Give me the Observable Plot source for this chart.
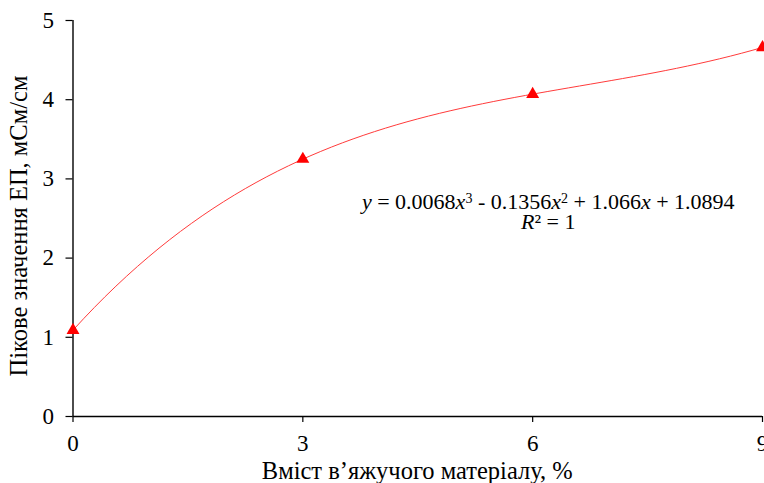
<!DOCTYPE html>
<html>
<head>
<meta charset="utf-8">
<script src="https://cdn.jsdelivr.net/npm/d3@7"></script>
<script src="https://cdn.jsdelivr.net/npm/@observablehq/plot@0.6"></script>
<style>
  html, body { margin: 0; padding: 0; background: #fff; }
  #chart { width: 764px; height: 483px; overflow: hidden; }
  #chart svg text { font-family: 'Liberation Serif', 'Times New Roman', serif !important; }
  #chart svg g[aria-label$="tick label"],
  #chart svg g[aria-label$="tick label"] text { font-size: 23px !important; }
</style>
</head>
<body>
<div id="chart"></div>
<script>
// ---- data ----
const bindingContent = [0, 3, 6, 9];          // Вміст в’яжучого матеріалу, %
const peakEC = [1.09, 3.25, 4.07, 4.66];        // Пікове значення ЕП, мСм/см
const xTicks = [0, 3, 6, 9];
const yTicks = [0, 1, 2, 3, 4, 5];
const xLabel = "Вміст в’яжучого матеріалу, %";
const yLabel = "Пікове значення ЕП, мСм/см";
const eqParts = [
  {t: "y", i: true}, {t: " = 0.0068"}, {t: "x", i: true}, {t: "3", sup: true},
  {t: " - 0.1356"}, {t: "x", i: true}, {t: "2", sup: true},
  {t: " + 1.066"}, {t: "x", i: true}, {t: " + 1.0894"}
];
const r2Parts = [{t: "R", i: true}, {t: "² = 1"}];

const points = bindingContent.map((x, k) => ({x, y: peakEC[k]}));

// cubic trendline through the points, drawn as a single Bézier (polynomial interpolant)
function cubicTrend(context) {
  let pts;
  return {
    areaStart() {}, areaEnd() {},
    lineStart() { pts = []; },
    point(x, y) { pts.push([+x, +y]); },
    lineEnd() {
      const n = pts.length;
      if (!n) return;
      const p = (x) => {
        let s = 0;
        for (let i = 0; i < n; i++) {
          let l = 1;
          for (let j = 0; j < n; j++) if (j !== i) l *= (x - pts[j][0]) / (pts[i][0] - pts[j][0]);
          s += l * pts[i][1];
        }
        return s;
      };
      const x0 = pts[0][0], x3 = pts[n - 1][0], d = x3 - x0;
      const y0 = p(x0), y3 = p(x3);
      const q1 = p(x0 + d / 3), q2 = p(x0 + 2 * d / 3);
      const A = 27 * q1 - 8 * y0 - y3, B = 27 * q2 - y0 - 8 * y3;
      const c1 = (2 * A - B) / 18, c2 = (2 * B - A) / 18;
      context.moveTo(x0, y0);
      context.bezierCurveTo(x0 + d / 3, c1, x0 + 2 * d / 3, c2, x3, y3);
    }
  };
}

const font = "'Liberation Serif', 'Times New Roman', serif";
const fmt = (d) => String(d);

const chart = Plot.plot({
  width: 764,
  height: 483,
  marginLeft: 72.5,
  marginRight: 2,
  marginTop: 20,
  marginBottom: 67,
  style: {fontFamily: font, fontSize: "23px", color: "#000", background: "#fff", overflow: "visible"},
  x: {domain: [0, 9]},
  y: {domain: [0, 5]},
  marks: [
    Plot.axisX({ticks: xTicks, tickFormat: fmt, tickSize: 6, tickPadding: 12, stroke: "#000", strokeWidth: 1.2,
      fontSize: 23, label: null}),
    Plot.axisY({ticks: yTicks, tickFormat: fmt, tickSize: 7, tickPadding: 12, stroke: "#000", strokeWidth: 1.2,
      fontSize: 23, label: null}),
    Plot.ruleX([0], {stroke: "#000", strokeWidth: 1.4}),
    Plot.ruleY([0], {stroke: "#000", strokeWidth: 1.4}),
    Plot.line(points, {x: "x", y: "y", stroke: "#ff3b3b", strokeWidth: 1, curve: cubicTrend}),
    Plot.dot(points, {x: "x", y: "y", symbol: "triangle", r: 4.8, fill: "#ff0000", stroke: "none"})
  ]
});

document.getElementById("chart").appendChild(chart);

const svgNode = chart.tagName.toLowerCase() === "svg" ? chart : chart.querySelector("svg");
const svg = d3.select(svgNode);

const sx = chart.scale("x"), sy = chart.scale("y");
const [xr0, xr1] = sx.range, [yr0, yr1] = sy.range;

// axis titles
svg.append("text")
  .attr("x", (xr0 + xr1) / 2).attr("y", yr0 + 63)
  .attr("text-anchor", "middle")
  .style("font-size", "24.5px").attr("fill", "#000")
  .text(xLabel);
svg.append("text")
  .attr("transform", `translate(${xr0 - 46},${(yr0 + yr1) / 2 + 8}) rotate(-90)`)
  .attr("text-anchor", "middle")
  .style("font-size", "24.5px").attr("fill", "#000")
  .text(yLabel);

// equation annotation placed in data coordinates
const eqX = 6.21, eqY = 2.61, r2Y = 2.36;
function addLine(parts, xv, yv) {
  const t = svg.append("text")
    .attr("x", sx.apply(xv)).attr("y", sy.apply(yv))
    .attr("text-anchor", "middle")
    .style("font-size", "22px").attr("fill", "#000");
  for (const p of parts) {
    const ts = t.append("tspan").text(p.t);
    if (p.i) ts.style("font-style", "italic");
    if (p.sup) ts.style("font-size", "14px").attr("baseline-shift", "40%");
  }
}
addLine(eqParts, eqX, eqY);
addLine(r2Parts, eqX, r2Y);
</script>
</body>
</html>
